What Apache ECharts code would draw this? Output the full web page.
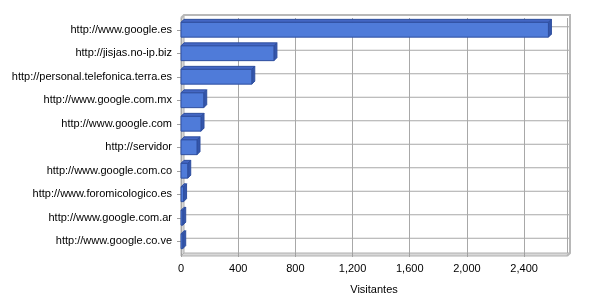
<!DOCTYPE html>
<html><head><meta charset="utf-8">
<script src="https://cdn.jsdelivr.net/npm/echarts@6/dist/echarts.min.js"></script>
<style>html,body{margin:0;padding:0;background:#fff}#c{width:600px;height:300px}</style>
</head><body><div id="c"></div>
<script>
const categories = [
  'http://www.google.es',
  'http://jisjas.no-ip.biz',
  'http://personal.telefonica.terra.es',
  'http://www.google.com.mx',
  'http://www.google.com',
  'http://servidor',
  'http://www.google.com.co',
  'http://www.foromicologico.es',
  'http://www.google.com.ar',
  'http://www.google.co.ve'
];
const visitors = [2570, 650, 495, 159, 140, 112, 47, 18, 12, 12];
const xTickValues = [0, 400, 800, 1200, 1600, 2000, 2400];
const axisTitle = 'Visitantes';

const G = {left: 181, top: 18, width: 386, height: 238};
const D = 3;
const FONT = 'Liberation Sans';

function renderBar(params, api) {
  const i = api.value(1);
  const v = api.value(0);
  const p0 = api.coord([0, i]);
  const p1 = api.coord([v, i]);
  const band = api.size([0, 1])[1];
  const h = Math.min(15, band * 0.63);
  const cs = params.coordSys;
  const x0 = p0[0], x1 = p1[0], yT = p0[1] - h / 2, yB = p0[1] + h / 2;
  return {
    type: 'group',
    children: [
      {type: 'line', shape: {x1: cs.x + D, y1: p0[1] - D, x2: cs.x + cs.width + D, y2: p0[1] - D},
       style: {stroke: '#a8a8a8', lineWidth: 1}, z2: 0},
      {type: 'polygon', shape: {points: [[x0, yT], [x0 + D, yT - D], [x1 + D, yT - D], [x1, yT]]},
       style: {fill: '#4467c4', stroke: '#2f4f9f', lineWidth: 1}, z2: 1},
      {type: 'polygon', shape: {points: [[x1, yT], [x1 + D, yT - D], [x1 + D, yB - D], [x1, yB]]},
       style: {fill: '#3456ab', stroke: '#2f4f9f', lineWidth: 1}, z2: 1},
      {type: 'rect', shape: {x: x0, y: yT, width: x1 - x0, height: h},
       style: {fill: '#4f7bd9', stroke: '#2f4f9f', lineWidth: 1}, z2: 2}
    ]
  };
}

const chart = echarts.init(document.getElementById('c'), null, {renderer: 'canvas'});
const R = G.left + G.width, B = G.top + G.height;
chart.setOption({
  backgroundColor: '#ffffff',
  animation: false,
  textStyle: {fontFamily: FONT},
  grid: {left: G.left, top: G.top, width: G.width, height: G.height},
  xAxis: {
    type: 'value', min: 0, max: 2700, interval: 400,
    name: axisTitle, nameLocation: 'middle', nameGap: 31,
    nameTextStyle: {color: '#000', fontSize: 11, fontFamily: FONT},
    axisLine: {show: false},
    axisTick: {show: true, length: 4, lineStyle: {color: '#a0a0a0'}},
    axisLabel: {color: '#000', fontSize: 11, fontFamily: FONT, margin: 10, showMaxLabel: false,
      formatter: v => xTickValues.indexOf(v) >= 0 ? v.toLocaleString('en-US') : ''},
    splitLine: {show: true, lineStyle: {color: '#a8a8a8', width: 1}}
  },
  yAxis: {
    type: 'category', data: categories, inverse: true,
    axisLine: {show: false},
    axisTick: {show: true, alignWithLabel: true, length: 4, lineStyle: {color: '#a0a0a0'}},
    axisLabel: {color: '#000', fontSize: 11, fontFamily: FONT, margin: 9},
    splitLine: {show: false}
  },
  graphic: [
    {type: 'polygon', z: -1, shape: {points: [[G.left, G.top], [G.left + D, G.top - D], [G.left + D, B - D], [G.left, B]]},
     style: {fill: '#d8d8d8', stroke: '#b0b0b0'}},
    {type: 'polygon', z: -1, shape: {points: [[G.left, B], [G.left + D, B - D], [R + D, B - D], [R, B]]},
     style: {fill: '#d8d8d8', stroke: '#b0b0b0'}},
    {type: 'polyline', z: 10, shape: {points: [[G.left, G.top], [G.left + D, G.top - D], [R + D, G.top - D], [R + D, B - D], [R, B]]},
     style: {stroke: '#b8b8b8', lineWidth: 2, fill: null}}
  ],
  series: [{
    type: 'custom',
    renderItem: renderBar,
    encode: {x: 0, y: 1},
    data: visitors.map((v, i) => [v, i]),
    clip: false
  }]
});
</script>
</body></html>
